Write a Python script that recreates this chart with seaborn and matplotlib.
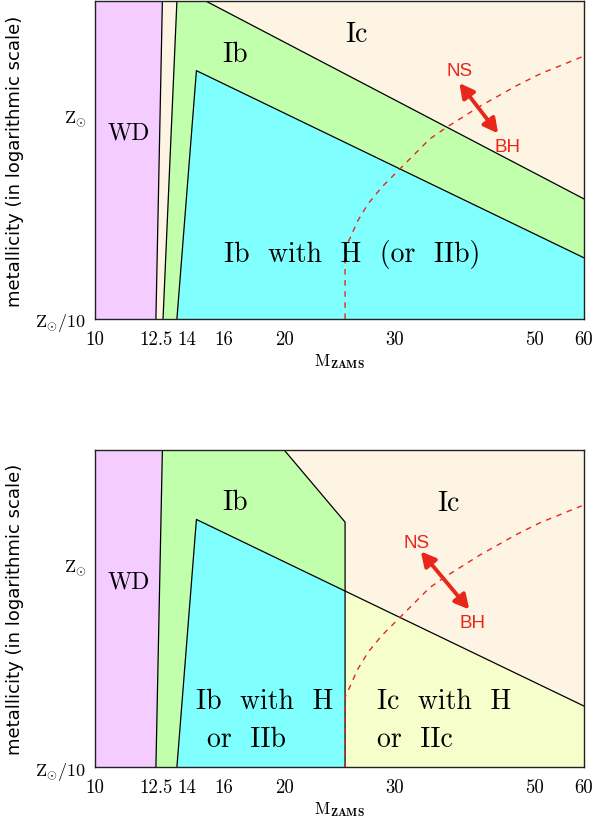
import numpy as np
import matplotlib
matplotlib.use("Agg")
import matplotlib.pyplot as plt
import seaborn as sns

# x: initial mass (M_ZAMS), y: metallicity in units of Z_sun (log scale)
m_min, m_max = 10, 60
z_min, z_max = 0.1, 3.68
m_ticks = [10, 12.5, 14, 16, 20, 30, 50, 60]
m_ticklabels = ["10", "12.5", "14", "16", "20", "30", "50", "60"]
z_ticks = [0.1, 1.0]
z_ticklabels = [r"$\mathrm{Z}_{\odot}/10$", r"$\mathrm{Z}_{\odot}$"]

# boundaries (mass, metallicity)
wd_edge_m = [12.5, 12.8]          # at z_min, z_max
ib_edge_m = [12.83, 13.5]         # panel 1 left edge of Ib strip
h_left_m = 13.5                   # Ib-with-H left edge at z_min
h_vertex = (14.5, 1.67)
h_line_m = [14.5, 60]
h_line_z = [1.67, 0.2]
ic_line_m = [15.0, 60]            # panel 1 Ib / Ic boundary
ic_line_z = [z_max, 0.39]
ic_edge2_m = [20, 25, 25]         # panel 2 Ib / Ic boundary
ic_edge2_z = [z_max, 1.62, 0.1]
# NS / BH dividing curve
bh_m = [25.0, 25.0, 25.5, 26.2, 27.2, 28.6, 30.2, 31.7, 34.1, 36.3, 41.0,
        46.9, 51.1, 59.5]
bh_z = [0.1, 0.221, 0.253, 0.305, 0.369, 0.446, 0.528, 0.614, 0.770, 0.880,
        1.116, 1.41, 1.61, 1.95]

# NS <-> BH arrows and their labels, one per panel
ns_bh_arrows = [((38.0, 1.45), (43.8, 0.82)), ((33.0, 1.16), (39.4, 0.60))]
ns_labels = [(38.0, 1.68), (32.5, 1.29)]
bh_labels = [(45.3, 0.71), (39.9, 0.52)]

c_wd = "#f4ccff"
c_ic = "#fdf4e4"
c_ib = "#c1ffad"
c_ibh = "#80ffff"
c_ich = "#f6ffcc"
c_red = "#e8261a"

sns.set_style("white")
plt.rcParams["mathtext.fontset"] = "cm"
plt.rcParams["axes.unicode_minus"] = False
for key in ["text.color", "axes.labelcolor", "xtick.color", "ytick.color"]:
    plt.rcParams[key] = "black"
serif = ["cmr10", "DejaVu Serif"]
lw = 0.9
big = 20


def log_interp(m, ms, zs):
    return 10 ** np.interp(np.log10(m), np.log10(ms), np.log10(zs))


def setup(ax):
    ax.set_xscale("log")
    ax.set_yscale("log")
    ax.set_xlim(m_min, m_max)
    ax.set_ylim(z_min, z_max)
    ax.set_facecolor(c_ic)
    ax.xaxis.set_minor_locator(matplotlib.ticker.NullLocator())
    ax.yaxis.set_minor_locator(matplotlib.ticker.NullLocator())
    ax.set_xticks(m_ticks)
    ax.set_xticklabels(m_ticklabels, family=serif, fontsize=13.5)
    ax.set_yticks(z_ticks)
    ax.set_yticklabels(z_ticklabels, fontsize=13)
    ax.tick_params(axis="x", length=0, pad=8)
    ax.tick_params(axis="y", length=0, pad=6)
    for s in ax.spines.values():
        s.set_linewidth(1.0)
        s.set_color("#222222")
        s.set_zorder(10)
    ax.set_xlabel(r"$\mathrm{M}_{\mathbf{ZAMS}}$", fontsize=12)
    ax.xaxis.set_label_coords(0.5, -0.1)
    ax.set_ylabel("metallicity (in logarithmic scale)", family="DejaVu Sans",
                  fontsize=13)
    ax.yaxis.set_label_coords(-0.145, 0.5)


def boundary(ax, ms, zs, **kw):
    sns.lineplot(x=ms, y=zs, ax=ax, sort=False, estimator=None,
                 color=kw.pop("color", "black"), lw=kw.pop("lw", lw), **kw)


def ns_bh(ax, i):
    (m0, z0), (m1, z1) = ns_bh_arrows[i]
    ax.annotate("", xy=(m0, z0), xytext=(m1, z1),
                arrowprops=dict(arrowstyle="<|-|>,head_length=0.85,head_width=0.45",
                                color=c_red, lw=2.8, shrinkA=0, shrinkB=0),
                zorder=6)
    ax.text(*ns_labels[i], "NS", color=c_red, fontsize=13.5,
            family="Liberation Sans", ha="center", va="center", zorder=6)
    ax.text(*bh_labels[i], "BH", color=c_red, fontsize=13.5,
            family="Liberation Sans", ha="center", va="center", zorder=6)


def label(ax, m, z, s, size=big, ha="center"):
    ax.text(m, z, s, family=serif, fontsize=size, ha=ha, va="center", zorder=5)


fig = plt.figure(figsize=(5.95, 8.2), dpi=100)
ax1 = fig.add_axes([0.1597, 0.6098, 0.8218, 0.3878])
ax2 = fig.add_axes([0.1597, 0.0634, 0.8218, 0.3866])

# ---------- panel 1 ----------
setup(ax1)
ax1.fill([m_min, wd_edge_m[0], wd_edge_m[1], m_min],
         [z_min, z_min, z_max, z_max], color=c_wd, lw=0)
ax1.fill([ib_edge_m[0], ib_edge_m[1], ic_line_m[0], ic_line_m[1], m_max],
         [z_min, z_max, ic_line_z[0], ic_line_z[1], z_min], color=c_ib, lw=0)
ax1.fill([h_left_m, h_vertex[0], h_line_m[1], m_max],
         [z_min, h_vertex[1], h_line_z[1], z_min], color=c_ibh, lw=0)
boundary(ax1, wd_edge_m, [z_min, z_max])
boundary(ax1, ib_edge_m, [z_min, z_max])
boundary(ax1, [h_left_m] + h_line_m, [z_min] + h_line_z)
boundary(ax1, ic_line_m, ic_line_z)
boundary(ax1, bh_m, bh_z, color=c_red, lw=1.0, linestyle=(0, (4, 4)))
ns_bh(ax1, 0)
label(ax1, 26.1, 2.53, "Ic")
label(ax1, 16.7, 2.02, "Ib")
label(ax1, 11.3, 0.83, "WD", size=17)
label(ax1, 25.7, 0.21, "Ib  with  H  (or  IIb)")

# ---------- panel 2 ----------
setup(ax2)
z25 = log_interp(ic_edge2_m[1], h_line_m, h_line_z)
ax2.fill([m_min, wd_edge_m[0], wd_edge_m[1], m_min],
         [z_min, z_min, z_max, z_max], color=c_wd, lw=0)
ax2.fill([wd_edge_m[0], wd_edge_m[1]] + ic_edge2_m,
         [z_min, z_max] + ic_edge2_z, color=c_ib, lw=0)
ax2.fill([h_left_m, h_vertex[0], ic_edge2_m[2], ic_edge2_m[2]],
         [z_min, h_vertex[1], z25, z_min], color=c_ibh, lw=0)
ax2.fill([ic_edge2_m[2], ic_edge2_m[2], h_line_m[1], m_max],
         [z_min, z25, h_line_z[1], z_min], color=c_ich, lw=0)
boundary(ax2, wd_edge_m, [z_min, z_max])
boundary(ax2, [h_left_m] + h_line_m, [z_min] + h_line_z)
boundary(ax2, ic_edge2_m, ic_edge2_z)
boundary(ax2, bh_m, bh_z, color=c_red, lw=1.0, linestyle=(0, (4, 4)))
ns_bh(ax2, 1)
label(ax2, 36.5, 2.01, "Ic")
label(ax2, 16.7, 2.03, "Ib")
label(ax2, 11.3, 0.83, "WD", size=17)
label(ax2, 14.5, 0.212, "Ib  with  H", ha="left")
label(ax2, 15.1, 0.1375, "or  IIb", ha="left")
label(ax2, 28.1, 0.212, "Ic  with  H", ha="left")
label(ax2, 28.1, 0.1375, "or  IIc", ha="left")

fig.savefig("out.png", dpi=100)
